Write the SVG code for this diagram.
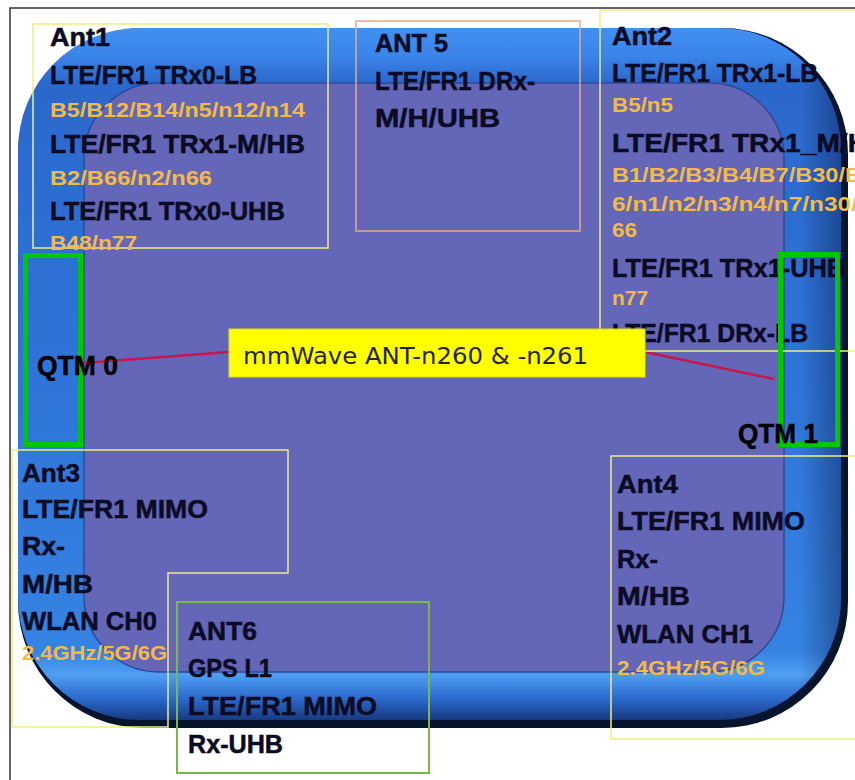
<svg xmlns="http://www.w3.org/2000/svg" width="855" height="780" viewBox="0 0 855 780">
  <defs>
    <linearGradient id="bodyGrad" x1="0" y1="28" x2="0" y2="720" gradientUnits="userSpaceOnUse">
      <stop offset="0" stop-color="#4290f2"/>
      <stop offset="0.04" stop-color="#3a84ea"/>
      <stop offset="0.08" stop-color="#2b68cc"/>
      <stop offset="0.5" stop-color="#2f74d8"/>
      <stop offset="0.9" stop-color="#3583e2"/>
      <stop offset="0.935" stop-color="#4f9ef2"/>
      <stop offset="0.97" stop-color="#2a68cc"/>
      <stop offset="1" stop-color="#173a80"/>
    </linearGradient>
    <linearGradient id="rightShade" x1="800" y1="0" x2="842" y2="0" gradientUnits="userSpaceOnUse">
      <stop offset="0" stop-color="#000020" stop-opacity="0"/>
      <stop offset="1" stop-color="#000020" stop-opacity="0.35"/>
    </linearGradient>
    <style>
      .t { font-family: "Liberation Sans", Arial, sans-serif; font-weight: bold; font-size: 25px; fill: #0b0b24; stroke: #0b0b24; stroke-width: 0.5; }
      .o { font-family: "Liberation Sans", Arial, sans-serif; font-weight: bold; font-size: 20px; fill: #f3bb45; }
      .q { font-family: "Liberation Sans", Arial, sans-serif; font-weight: bold; font-size: 27px; fill: #000000; stroke: #000000; stroke-width: 0.5; }
      .ybox { fill: none; stroke: #eeee84; stroke-width: 1.5; }
      .qtm { fill: none; stroke: #00c800; stroke-width: 5; }
      .conn { stroke: #c8174a; stroke-width: 2.5; fill: none; }
    </style>
  </defs>

  <rect x="0" y="0" width="855" height="780" fill="#ffffff"/>
  <!-- frame -->
  <path d="M10 780 V8 H855" fill="none" stroke="#333333" stroke-width="1.5"/>

  <!-- phone body -->
  <g id="phone-body">
    <rect x="18" y="28" width="830" height="700" rx="126" fill="#07142e"/>
    <rect x="18" y="28" width="823" height="692" rx="122" fill="url(#bodyGrad)"/>
    <rect x="18" y="28" width="823" height="692" rx="122" fill="url(#rightShade)"/>
    <rect x="84" y="83" width="700" height="589" rx="75" fill="#6466b8" stroke="#2c4a9a" stroke-width="1.5"/>
  </g>

  <!-- connectors -->
  <g id="connectors">
    <line class="conn" x1="83" y1="363" x2="229" y2="352"/>
    <line class="conn" x1="645" y1="352" x2="774" y2="379"/>
  </g>

  <g id="ant1">
    <rect class="ybox" x="33" y="24" width="295" height="224"/>
    <text class="t" x="50" y="46" textLength="60" lengthAdjust="spacingAndGlyphs">Ant1</text>
    <text class="t" x="50" y="84" textLength="207" lengthAdjust="spacingAndGlyphs">LTE/FR1 TRx0-LB</text>
    <text class="o" x="50" y="117" textLength="255" lengthAdjust="spacingAndGlyphs">B5/B12/B14/n5/n12/n14</text>
    <text class="t" x="50" y="153" textLength="255" lengthAdjust="spacingAndGlyphs">LTE/FR1 TRx1-M/HB</text>
    <text class="o" x="50" y="185" textLength="162" lengthAdjust="spacingAndGlyphs">B2/B66/n2/n66</text>
    <text class="t" x="50" y="220" textLength="235" lengthAdjust="spacingAndGlyphs">LTE/FR1 TRx0-UHB</text>
    <text class="o" x="50" y="250" textLength="87" lengthAdjust="spacingAndGlyphs">B48/n77</text>
  </g>

  <g id="ant5">
    <rect x="356" y="21" width="224" height="210" fill="none" stroke="#eaa88a" stroke-width="1.5"/>
    <text class="t" x="375" y="52" textLength="73" lengthAdjust="spacingAndGlyphs">ANT 5</text>
    <text class="t" x="375" y="90" textLength="160" lengthAdjust="spacingAndGlyphs">LTE/FR1 DRx-</text>
    <text class="t" x="375" y="127" textLength="125" lengthAdjust="spacingAndGlyphs">M/H/UHB</text>
  </g>

  <g id="ant2">
    <rect class="ybox" x="600" y="10" width="270" height="341"/>
    <text class="t" x="612" y="45" textLength="60" lengthAdjust="spacingAndGlyphs">Ant2</text>
    <text class="t" x="612" y="82" textLength="206" lengthAdjust="spacingAndGlyphs">LTE/FR1 TRx1-LB</text>
    <text class="o" x="612" y="112" textLength="61" lengthAdjust="spacingAndGlyphs">B5/n5</text>
    <text class="t" x="612" y="152" textLength="256" lengthAdjust="spacingAndGlyphs">LTE/FR1 TRx1_M/H</text>
    <text class="o" x="612" y="182" textLength="250" lengthAdjust="spacingAndGlyphs">B1/B2/B3/B4/B7/B30/B</text>
    <text class="o" x="612" y="211" textLength="246" lengthAdjust="spacingAndGlyphs">6/n1/n2/n3/n4/n7/n30/</text>
    <text class="o" x="612" y="237" textLength="25" lengthAdjust="spacingAndGlyphs">66</text>
    <text class="t" x="612" y="277" textLength="233" lengthAdjust="spacingAndGlyphs">LTE/FR1 TRx1-UHB</text>
    <text class="o" x="612" y="305" textLength="36" lengthAdjust="spacingAndGlyphs">n77</text>
    <text class="t" x="612" y="342" textLength="196" lengthAdjust="spacingAndGlyphs">LTE/FR1 DRx-LB</text>
  </g>

  <g id="qtm0">
    <rect class="qtm" x="25.5" y="255.5" width="55" height="189"/>
    <text class="q" x="37" y="375" textLength="81" lengthAdjust="spacingAndGlyphs">QTM 0</text>
  </g>

  <g id="qtm1">
    <rect class="qtm" x="780.5" y="254.5" width="57" height="190"/>
    <text class="q" x="738" y="443" textLength="80" lengthAdjust="spacingAndGlyphs">QTM 1</text>
  </g>

  <g id="mmwave">
    <rect x="229" y="329" width="416" height="48" fill="#ffff00" stroke="#e0e000" stroke-width="1"/>
    <text x="243" y="364" font-family="'DejaVu Sans', 'Liberation Sans', sans-serif" font-size="23" fill="#222222" textLength="345" lengthAdjust="spacingAndGlyphs">mmWave ANT-n260 &amp; -n261</text>
  </g>

  <g id="ant3">
    <polygon class="ybox" points="12,450 288,450 288,573 168,573 168,727 12,727"/>
    <text class="t" x="22" y="482" textLength="58" lengthAdjust="spacingAndGlyphs">Ant3</text>
    <text class="t" x="22" y="518" textLength="186" lengthAdjust="spacingAndGlyphs">LTE/FR1 MIMO</text>
    <text class="t" x="22" y="555" textLength="43" lengthAdjust="spacingAndGlyphs">Rx-</text>
    <text class="t" x="22" y="593" textLength="71" lengthAdjust="spacingAndGlyphs">M/HB</text>
    <text class="t" x="22" y="630" textLength="135" lengthAdjust="spacingAndGlyphs">WLAN CH0</text>
    <text class="o" x="22" y="660" textLength="145" lengthAdjust="spacingAndGlyphs">2.4GHz/5G/6G</text>
  </g>

  <g id="ant6">
    <rect x="177" y="602" width="252" height="171" fill="none" stroke="#7ab648" stroke-width="2"/>
    <text class="t" x="188" y="640" textLength="69" lengthAdjust="spacingAndGlyphs">ANT6</text>
    <text class="t" x="188" y="677" textLength="84" lengthAdjust="spacingAndGlyphs">GPS L1</text>
    <text class="t" x="188" y="715" textLength="189" lengthAdjust="spacingAndGlyphs">LTE/FR1 MIMO</text>
    <text class="t" x="188" y="753" textLength="95" lengthAdjust="spacingAndGlyphs">Rx-UHB</text>
  </g>

  <g id="ant4">
    <rect class="ybox" x="611" y="456" width="260" height="283"/>
    <text class="t" x="617" y="493" textLength="61" lengthAdjust="spacingAndGlyphs">Ant4</text>
    <text class="t" x="617" y="530" textLength="188" lengthAdjust="spacingAndGlyphs">LTE/FR1 MIMO</text>
    <text class="t" x="617" y="568" textLength="41" lengthAdjust="spacingAndGlyphs">Rx-</text>
    <text class="t" x="617" y="605" textLength="73" lengthAdjust="spacingAndGlyphs">M/HB</text>
    <text class="t" x="617" y="643" textLength="136" lengthAdjust="spacingAndGlyphs">WLAN CH1</text>
    <text class="o" x="617" y="675" textLength="148" lengthAdjust="spacingAndGlyphs">2.4GHz/5G/6G</text>
  </g>
</svg>
